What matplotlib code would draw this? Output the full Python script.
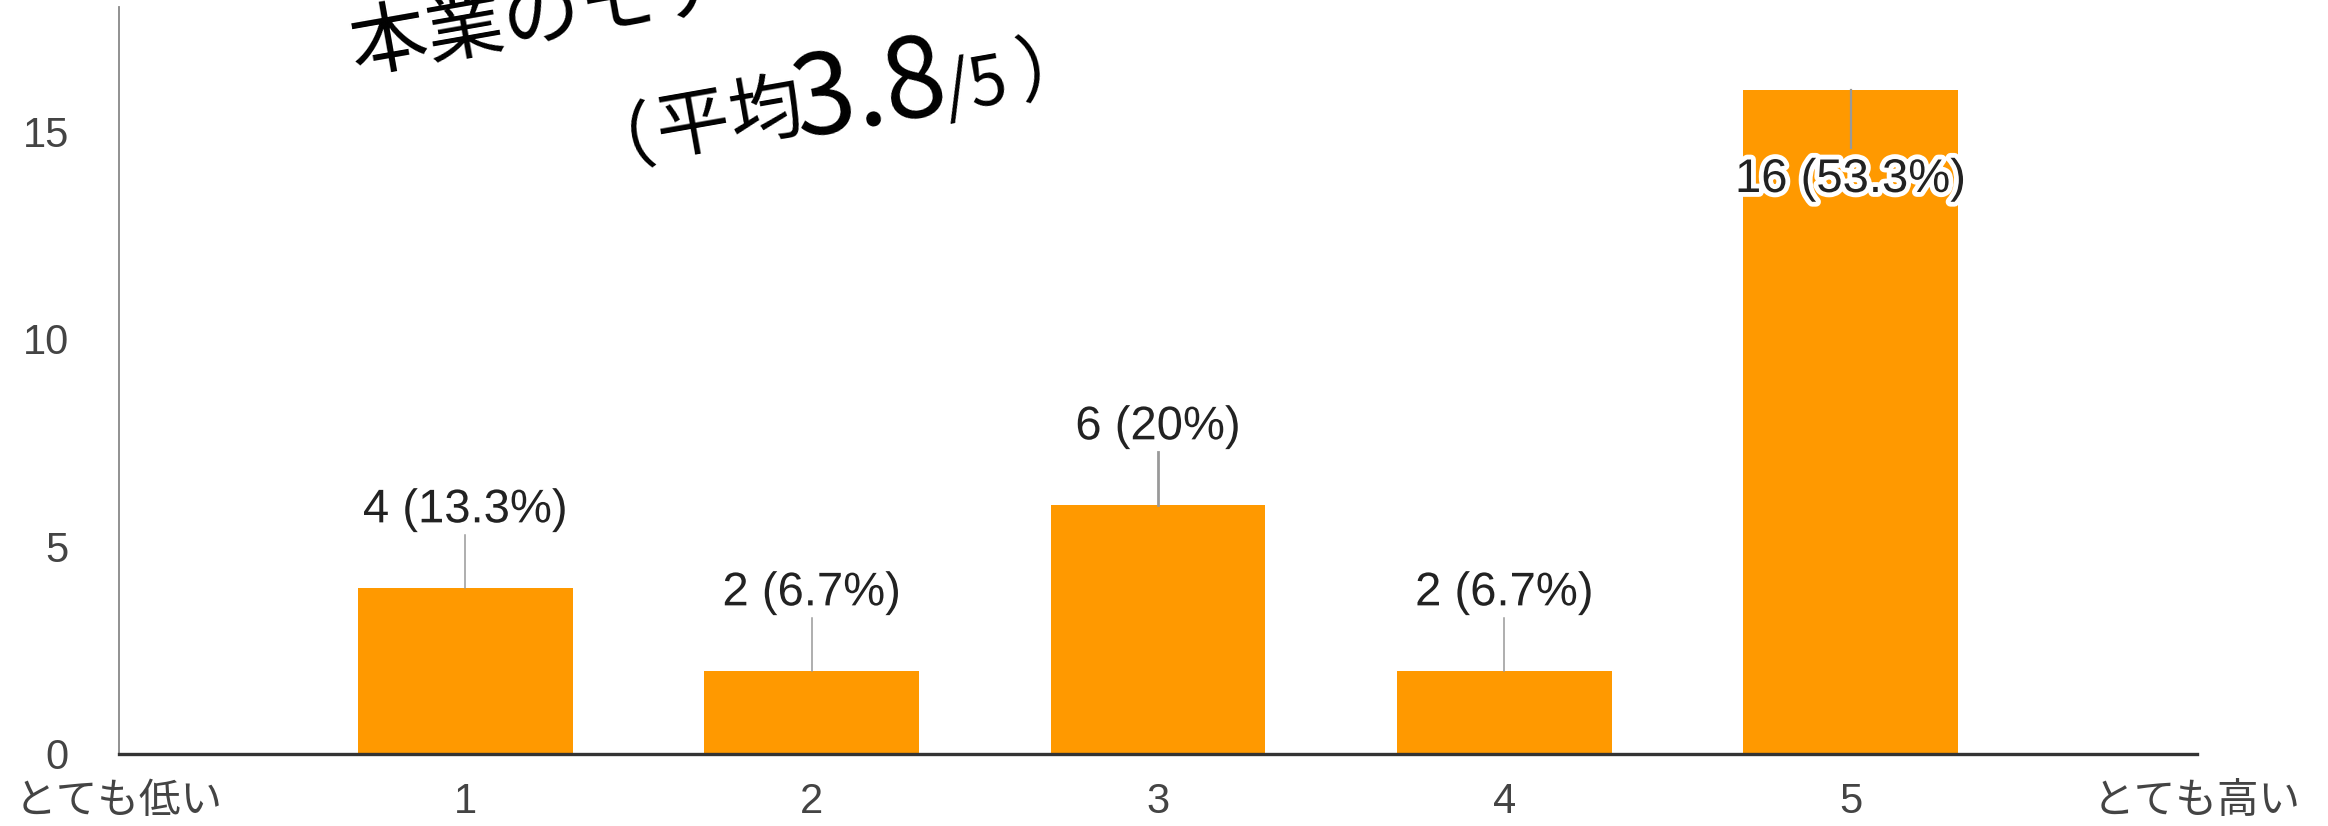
import numpy as np
import matplotlib.pyplot as plt
import matplotlib.patheffects as pe
from matplotlib.transforms import IdentityTransform

plt.rcParams['font.family'] = ['Liberation Sans', 'Noto Sans CJK JP']

# datos
categorias = ['とても低い', '1', '2', '3', '4', '5', 'とても高い']
puntajes = [1, 2, 3, 4, 5]
respuestas = [4, 2, 6, 2, 16]
porcentajes = ['13.3%', '6.7%', '20%', '6.7%', '53.3%']
titulo1 = '本業のモチベーション'
promedio = '3.8'

naranja = '#ff9900'
H = 826  # alto en px

fig = plt.figure(figsize=(23.28, 8.26), dpi=100)
ax = fig.add_axes([0.0511, 0.0872, 0.8926, 0.9044])

ax.bar(puntajes, respuestas, width=0.62, color=naranja, zorder=2)

ax.set_xlim(0, 6)
ax.set_ylim(0, 18)
ax.set_xticks(range(len(categorias)))
ax.set_xticklabels(categorias)
ax.set_yticks([0, 5, 10, 15])
ax.tick_params(axis='both', length=0, labelsize=30, colors='#444444')
ax.tick_params(axis='y', pad=36)
ax.tick_params(axis='x', pad=20)

for s in ['top', 'right']:
    ax.spines[s].set_visible(False)
ax.spines['left'].set_color('#888888')
ax.spines['left'].set_linewidth(1.3)
ax.spines['bottom'].set_color('#333333')
ax.spines['bottom'].set_linewidth(2.4)
ax.spines['bottom'].set_zorder(3)

# etiquetas con linea guia
halo = [pe.withStroke(linewidth=7, foreground='white')]
anchos = [1.1, 1.1, 2.0, 1.1, 1.6]
for x, v, p, lw in zip(puntajes, respuestas, porcentajes, anchos):
    txt = f'{v} ({p})'
    if v > 12:
        ax.plot([x, x], [v, v - 1.4], color='#999999', lw=lw, zorder=3)
        ax.text(x, v - 2.17, txt, ha='center', va='center', fontsize=34,
                color='#222222', path_effects=halo, zorder=4)
    else:
        ax.plot([x, x], [v, v + 1.27], color='#999999', lw=lw, zorder=3)
        ax.text(x, v + 1.87, txt, ha='center', va='center', fontsize=34,
                color='#222222', path_effects=halo, zorder=4)

# titulo rotado (cortado arriba)
ang = 10


def pieza(x, y_top, s, fs):
    # x, y_top: origen sobre la linea base, px desde arriba
    fig.text(x, H - y_top, s, fontsize=fs, family='Noto Sans CJK JP',
             color='black', ha='left', va='baseline', rotation=ang,
             rotation_mode='anchor', transform=IdentityTransform())


pieza(355, 72, titulo1, 56)
pieza(586, 163, '（', 53)
pieza(660, 154, '平', 53)
pieza(733, 141, '均', 53)
pieza(800, 138, promedio, 80)
pieza(947, 112, '/5', 49)
pieza(1021, 97, '）', 53)

fig.savefig('out.png', dpi=100)
